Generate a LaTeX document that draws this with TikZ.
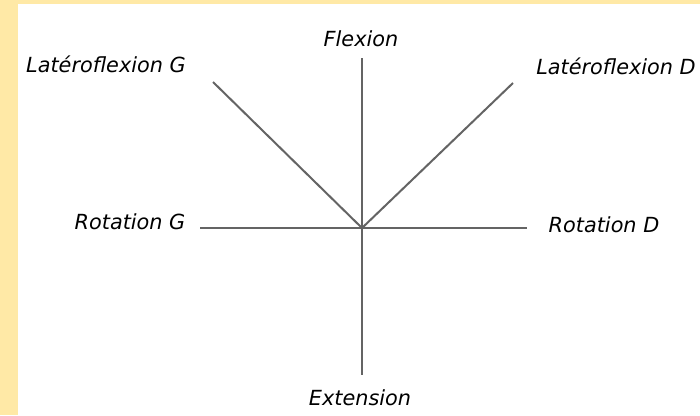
\documentclass[tikz,border=0pt]{standalone}
\usepackage{fontspec}
\setmainfont{DejaVu Sans}
\definecolor{frameyellow}{RGB}{255,233,166}
\definecolor{axisgray}{RGB}{100,100,100}
\begin{document}
\begin{tikzpicture}[x=1pt,y=-1pt,
  lab/.style={font=\fontsize{20.8}{24}\selectfont\itshape, text=black, inner sep=0pt, anchor=center},
  axis/.style={draw=axisgray, line width=2pt}]
\useasboundingbox (0,0) rectangle (700,415);
\fill[frameyellow] (0,0) rectangle (700,415);
\fill[white] (18,4) rectangle (700,415);
% labels
\node[lab] (flex) at (361,39) {Flexion};
\node[lab] (lfg) at (106,64) {Latéroflexion G};
\node[lab] (lfd) at (616,66) {Latéroflexion D};
\node[lab] (rotg) at (130,222) {Rotation G};
\node[lab] (rotd) at (604,225) {Rotation D};
\node[lab] (ext) at (360,398) {Extension};
% axis ends
\coordinate (c) at (362,228);
\coordinate (top) at (362,58);
\coordinate (bot) at (362,375);
\coordinate (left) at (200,228);
\coordinate (right) at (527,228);
\coordinate (ul) at (213,82);
\coordinate (ur) at (513,83);
\draw[axis] (top) -- (bot);
\draw[axis] (left) -- (right);
\draw[axis] (ul) -- (c) -- (ur);
\end{tikzpicture}
\end{document}
